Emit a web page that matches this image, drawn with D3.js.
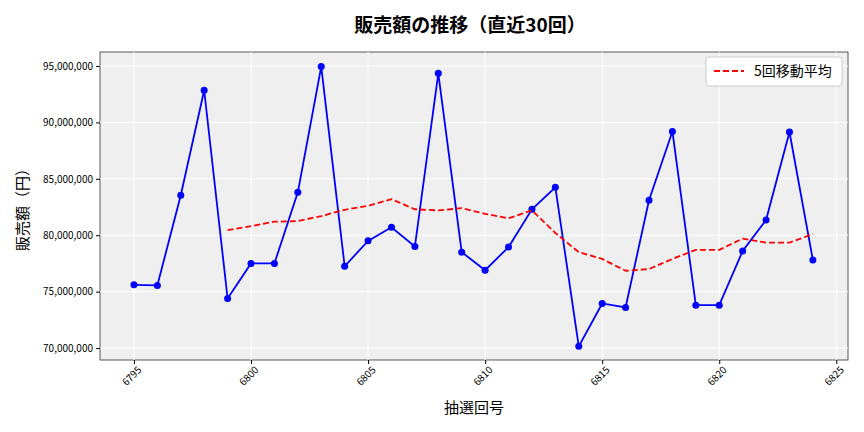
<!DOCTYPE html><html><head><meta charset="utf-8"><script src="https://cdn.jsdelivr.net/npm/d3@7"></script>
<style>body{margin:0;background:#fff}text{font-family:"Noto Sans CJK JP","Noto Sans",sans-serif}</style></head><body><svg width="864" height="432"></svg><script>
const draws=d3.range(6795,6825);
const sales=[75.6,75.55,83.55,92.85,74.4,77.5,77.5,83.8,94.95,77.25,79.5,80.7,79.0,94.35,78.5,76.9,78.95,82.3,84.25,70.15,73.95,73.6,83.1,89.2,73.8,73.8,78.6,81.35,89.15,77.8].map(v=>v*1e6);
const maDraws=d3.range(6799,6825);
const ma=[80.45,80.8,81.2,81.25,81.7,82.25,82.6,83.2,82.3,82.2,82.4,81.9,81.5,82.2,80.2,78.5,77.9,76.85,77.0,77.9,78.7,78.7,79.7,79.35,79.35,80.1].map(v=>v*1e6);
const xTicks=[6795,6800,6805,6810,6815,6820,6825];
const yTicks=[70e6,75e6,80e6,85e6,90e6,95e6];
const svg=d3.select("svg");
const L=100,R=848,T=52,B=360;
const x=d3.scaleLinear().domain([6793.55,6825.5]).range([L,R]);
const y=d3.scaleLinear().domain([68.94e6,96.24e6]).range([B,T]);
svg.append("rect").attr("x",L).attr("y",T).attr("width",R-L).attr("height",B-T).attr("fill","#efefef").attr("stroke","#333").attr("stroke-width",0.8);
svg.append("g").selectAll("line").data(xTicks).join("line").attr("x1",d=>x(d)).attr("x2",d=>x(d)).attr("y1",T).attr("y2",B).attr("stroke","#fff");
svg.append("g").selectAll("line").data(yTicks).join("line").attr("y1",d=>y(d)).attr("y2",d=>y(d)).attr("x1",L).attr("x2",R).attr("stroke","#fff");
const xa=svg.append("g").attr("transform",`translate(0,${B})`).call(d3.axisBottom(x).tickValues(xTicks).tickFormat(d3.format("d")).tickSize(4));
xa.selectAll("text").attr("transform","rotate(-45)").attr("text-anchor","end").attr("dx","-0.2em").attr("dy","0.6em").attr("font-size",10);
const ya=svg.append("g").attr("transform",`translate(${L},0)`).call(d3.axisLeft(y).tickValues(yTicks).tickFormat(d3.format(",")).tickSize(4));
ya.selectAll("text").attr("font-size",10);
svg.selectAll(".domain").remove();
svg.append("path").datum(draws.map((d,i)=>[d,sales[i]])).attr("d",d3.line().x(d=>x(d[0])).y(d=>y(d[1]))).attr("fill","none").attr("stroke","#0000ff").attr("stroke-width",1.8);
svg.append("g").selectAll("circle").data(draws).join("circle").attr("cx",d=>x(d)).attr("cy",(d,i)=>y(sales[i])).attr("r",3.5).attr("fill","#0000ff");
svg.append("path").datum(maDraws.map((d,i)=>[d,ma[i]])).attr("d",d3.line().x(d=>x(d[0])).y(d=>y(d[1]))).attr("fill","none").attr("stroke","#ff0000").attr("stroke-width",1.8).attr("stroke-dasharray","6,3");
svg.append("text").attr("x",470).attr("y",32).attr("text-anchor","middle").attr("font-size",19).attr("font-weight","bold").text("販売額の推移（直近30回）");
svg.append("text").attr("x",474).attr("y",413).attr("text-anchor","middle").attr("font-size",15).text("抽選回号");
svg.append("text").attr("transform","translate(28,206) rotate(-90)").attr("text-anchor","middle").attr("font-size",15).text("販売額（円）");
const lg=svg.append("g");
lg.append("rect").attr("x",706).attr("y",57).attr("width",136).attr("height",29).attr("rx",3).attr("fill","#fff").attr("stroke","#ccc");
lg.append("line").attr("x1",714).attr("x2",744).attr("y1",71).attr("y2",71).attr("stroke","#ff0000").attr("stroke-width",1.8).attr("stroke-dasharray","6,3");
lg.append("text").attr("x",754).attr("y",76).attr("font-size",14).text("5回移動平均");
</script></body></html>
